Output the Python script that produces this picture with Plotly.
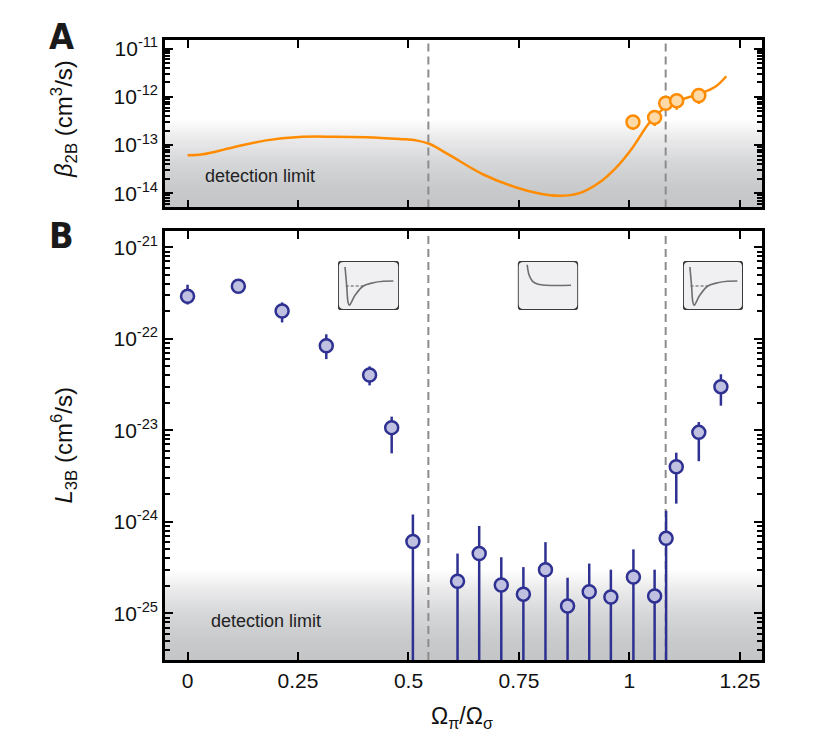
import plotly.graph_objects as go

# ---- Painel A: taxa de perda de dois corpos ----
beta_curva_x = [0, 0.034, 0.10, 0.178, 0.253, 0.329, 0.404, 0.48, 0.517, 0.548,
                0.593, 0.668, 0.744, 0.796, 0.842, 0.887, 0.932, 0.97, 1.007,
                1.045, 1.075, 1.106, 1.158, 1.196, 1.219]
beta_curva_y = [6.11e-14, 6.41e-14, 8.81e-14, 1.25e-13, 1.47e-13, 1.49e-13,
                1.45e-13, 1.33e-13, 1.25e-13, 1.05e-13, 6.17e-14, 2.47e-14,
                1.31e-14, 9.8e-15, 8.8e-15, 1.0e-14, 1.66e-14, 3.39e-14,
                8.81e-14, 2.90e-13, 5.50e-13, 8.13e-13, 1.15e-12, 1.67e-12,
                2.69e-12]

beta_x = [1.008, 1.057, 1.082, 1.107, 1.157]
beta_y = [3.0e-13, 3.75e-13, 7.4e-13, 8.3e-13, 1.07e-12]
beta_sup = [3.55e-13, 4.47e-13, 8.7e-13, 1.0e-12, 1.26e-12]
beta_inf = [2.05e-13, 2.47e-13, 6.3e-13, 5.4e-13, 7.1e-13]

# ---- Painel B: taxa de perda de tres corpos ----
l3_x = [0.0, 0.115, 0.214, 0.314, 0.412, 0.462, 0.51, 0.611, 0.66, 0.71, 0.76,
        0.81, 0.86, 0.909, 0.958, 1.009, 1.057, 1.083, 1.106, 1.157, 1.207]
l3_y = [2.92e-22, 3.75e-22, 2.01e-22, 8.4e-23, 4.03e-23, 1.07e-23, 6.1e-25,
        2.24e-25, 4.5e-25, 2.04e-25, 1.62e-25, 3.0e-25, 1.2e-25, 1.72e-25,
        1.51e-25, 2.5e-25, 1.55e-25, 6.6e-25, 4.0e-24, 9.5e-24, 3.0e-23]
l3_sup = [3.9e-22, 4.0e-22, 2.5e-22, 1.12e-22, 5.0e-23, 1.41e-23, 1.2e-24,
          4.5e-25, 9.0e-25, 4.1e-25, 3.2e-25, 6.0e-25, 2.45e-25, 3.5e-25,
          3.0e-25, 5.0e-25, 3.0e-25, 1.32e-24, 5.7e-24, 1.23e-23, 4.1e-23]
# 1e-27 = barra que desce abaixo do limite do eixo
l3_inf = [2.37e-22, 3.55e-22, 1.51e-22, 6.0e-23, 3.1e-23, 5.6e-24, 1e-27,
          1e-27, 1e-27, 1e-27, 1e-27, 1e-27, 1e-27, 1e-27, 1e-27, 1e-27,
          1e-27, 1e-27, 1.58e-24, 4.6e-24, 1.86e-23]

linhas_tracejadas = [0.545, 1.082]
limite_deteccao_a = 3.5e-13
limite_deteccao_b = 3.0e-25

x_ticks = [0, 0.25, 0.5, 0.75, 1, 1.25]
x_ticktext = ["0", "0.25", "0.5", "0.75", "1", "1.25"]
ya_ticks = [1e-11, 1e-12, 1e-13, 1e-14]
ya_ticktext = ["10<sup>-11</sup>", "10<sup>-12</sup>", "10<sup>-13</sup>", "10<sup>-14</sup>"]
yb_ticks = [1e-21, 1e-22, 1e-23, 1e-24, 1e-25]
yb_ticktext = ["10<sup>-21</sup>", "10<sup>-22</sup>", "10<sup>-23</sup>",
               "10<sup>-24</sup>", "10<sup>-25</sup>"]

# curvas esquematicas dos potenciais (coordenadas relativas da caixa)
pot_ligado_u = [0.115, 0.142, 0.164, 0.185, 0.279, 0.415, 0.579, 0.743, 0.907]
pot_ligado_v = [0.878, 0.504, 0.163, 0.096, 0.30, 0.49, 0.557, 0.586, 0.592]
nivel_u = [0.126, 0.415]
nivel_v = [0.49, 0.49]
pot_repulsivo_u = [0.155, 0.188, 0.245, 0.338, 0.478, 0.883]
pot_repulsivo_v = [0.924, 0.708, 0.586, 0.524, 0.504, 0.504]

# ---- estilos ----
X_RANGE = [-0.051, 1.30]
YA_RANGE = [-14.296, -10.818]
YB_RANGE = [-25.51, -20.822]
LARANJA = "#ff8c00"
AZUL = "#2e3192"
FONTE = "Liberation Sans, Arial, sans-serif"

fig = go.Figure()

gradiente = [[0, "#c4c5c7"], [0.2, "#c8c9cb"], [0.5, "#d5d6d8"],
             [0.8, "#ececed"], [1, "#ffffff"]]

# faixa do limite de deteccao + linhas tracejadas
for eixo_y, faixa, limite in [("y", YA_RANGE, limite_deteccao_a),
                              ("y2", YB_RANGE, limite_deteccao_b)]:
    base = 10 ** faixa[0]
    eixo_x = "x" if eixo_y == "y" else "x2"
    fig.add_trace(go.Scatter(
        x=[X_RANGE[0], X_RANGE[1], X_RANGE[1], X_RANGE[0]],
        y=[base, base, limite, limite],
        xaxis=eixo_x, yaxis=eixo_y,
        mode="lines", line=dict(width=0), fill="toself",
        fillgradient=dict(type="vertical", colorscale=gradiente),
        hoverinfo="skip",
    ))
    for xd in linhas_tracejadas:
        fig.add_trace(go.Scatter(
            x=[xd, xd], y=[10 ** faixa[0], 10 ** faixa[1]],
            xaxis=eixo_x, yaxis=eixo_y,
            mode="lines", line=dict(color="#8c8c8c", width=2, dash="8px,5px"),
            hoverinfo="skip",
        ))

fig.add_trace(go.Scatter(
    x=beta_curva_x, y=beta_curva_y, mode="lines", line_shape="spline",
    line=dict(color=LARANJA, width=2.5), xaxis="x", yaxis="y",
))
fig.add_trace(go.Scatter(
    x=beta_x, y=beta_y, mode="markers", xaxis="x", yaxis="y",
    marker=dict(size=13, color="#ffd9a6", line=dict(color=LARANJA, width=2.5)),
    error_y=dict(type="data", symmetric=False,
                 array=[s - v for s, v in zip(beta_sup, beta_y)],
                 arrayminus=[v - i for v, i in zip(beta_y, beta_inf)],
                 color=LARANJA, thickness=2.5, width=0),
))

fig.add_trace(go.Scatter(
    x=l3_x, y=l3_y, mode="markers", xaxis="x2", yaxis="y2",
    marker=dict(size=13, color="#c0c1e0", line=dict(color=AZUL, width=2.5)),
    error_y=dict(type="data", symmetric=False,
                 array=[s - v for s, v in zip(l3_sup, l3_y)],
                 arrayminus=[v - i for v, i in zip(l3_y, l3_inf)],
                 color=AZUL, thickness=2.5, width=0),
))

# insets com os potenciais
insets = [("x3", "y3", [0.2898, 0.392], True),
          ("x4", "y4", [0.591, 0.692], False),
          ("x5", "y5", [0.8677, 0.968], True)]
rx, ry = 0.09, 0.11
caixa = (f"M {rx},0 L {1-rx},0 Q 1,0 1,{ry} L 1,{1-ry} Q 1,1 {1-rx},1 "
         f"L {rx},1 Q 0,1 0,{1-ry} L 0,{ry} Q 0,0 {rx},0 Z")
for xa, ya, dom, ligado in insets:
    fig.add_shape(type="path", path=caixa, xref=xa, yref=ya, layer="below",
                  fillcolor="#f0f0f2", line=dict(color="#3a3a3a", width=1.8))
    if ligado:
        fig.add_trace(go.Scatter(x=nivel_u, y=nivel_v, mode="lines", xaxis=xa, yaxis=ya,
                                 line=dict(color="#555555", width=1, dash="3px,2px")))
        fig.add_trace(go.Scatter(x=pot_ligado_u, y=pot_ligado_v, mode="lines",
                                 line_shape="spline", xaxis=xa, yaxis=ya,
                                 line=dict(color="#6e6e6e", width=1.6)))
    else:
        fig.add_trace(go.Scatter(x=pot_repulsivo_u, y=pot_repulsivo_v, mode="lines",
                                 line_shape="spline", xaxis=xa, yaxis=ya,
                                 line=dict(color="#6e6e6e", width=1.6)))

fonte_ticks = dict(family=FONTE, size=21, color="#111111")
inset_eixo = dict(visible=False, range=[0, 1], fixedrange=True)
# moldura preta com marcas para dentro nos quatro lados
moldura = dict(showline=True, linecolor="black", linewidth=2.5, mirror="ticks",
               ticks="inside", ticklen=8, tickwidth=2, tickcolor="black",
               showgrid=False, zeroline=False, tickmode="array")
moldura_log = dict(moldura, type="log",
                   minor=dict(ticks="inside", ticklen=5, tickwidth=1.5,
                              tickcolor="black", dtick="D1", showgrid=False))

fig.update_layout(
    width=815, height=741,
    margin=dict(l=157, r=61, t=32, b=89),
    plot_bgcolor="white", paper_bgcolor="white",
    showlegend=False,
    font=dict(family=FONTE, color="#111111"),
    xaxis=dict(moldura, domain=[0, 1], range=X_RANGE, anchor="y",
               tickvals=x_ticks, showticklabels=False),
    yaxis=dict(moldura_log, domain=[0.730, 1], range=YA_RANGE, anchor="x",
               tickvals=ya_ticks, ticktext=ya_ticktext, tickfont=fonte_ticks),
    xaxis2=dict(moldura, domain=[0, 1], range=X_RANGE, anchor="y2",
                tickvals=x_ticks, ticktext=x_ticktext, tickfont=fonte_ticks),
    yaxis2=dict(moldura_log, domain=[0, 0.6919], range=YB_RANGE, anchor="x2",
                tickvals=yb_ticks, ticktext=yb_ticktext, tickfont=fonte_ticks),
    xaxis3=dict(inset_eixo, domain=insets[0][2], anchor="y3"),
    yaxis3=dict(inset_eixo, domain=[0.5645, 0.6435], anchor="x3"),
    xaxis4=dict(inset_eixo, domain=insets[1][2], anchor="y4"),
    yaxis4=dict(inset_eixo, domain=[0.5645, 0.6435], anchor="x4"),
    xaxis5=dict(inset_eixo, domain=insets[2][2], anchor="y5"),
    yaxis5=dict(inset_eixo, domain=[0.5645, 0.6435], anchor="x5"),
)

anot = dict(xref="paper", yref="paper", showarrow=False,
            xanchor="center", yanchor="middle")
fig.add_annotation(anot, x=-0.169, y=0.8726, textangle=-90,
                   text="<i>β</i><sub>2B</sub> (cm<sup>3</sup>/s)",
                   font=dict(family=FONTE, size=24, color="#111111"))
fig.add_annotation(anot, x=-0.169, y=0.346, textangle=-90,
                   text="<i>L</i><sub>3B</sub> (cm<sup>6</sup>/s)",
                   font=dict(family=FONTE, size=24, color="#111111"))
fig.add_annotation(anot, x=0.4975, y=-0.0935,
                   text="Ω<sub>π</sub>/Ω<sub>σ</sub>",
                   font=dict(family=FONTE, size=23, color="#111111"))
for letra, ypos in [("A", 1.005), ("B", 0.684)]:
    fig.add_annotation(anot, x=-0.173, y=ypos, text=f"<b>{letra}</b>",
                       font=dict(family="Liberation Sans Narrow, DejaVu Sans Condensed, sans-serif",
                                 size=36, color="#1a1a1a"))
fig.add_annotation(anot, x=0.0637, y=0.7806, xanchor="left", text="detection limit",
                   font=dict(family=FONTE, size=18, color="#222222"))
fig.add_annotation(anot, x=0.0737, y=0.0629, xanchor="left", text="detection limit",
                   font=dict(family=FONTE, size=18, color="#222222"))

fig.write_html("out.html")
